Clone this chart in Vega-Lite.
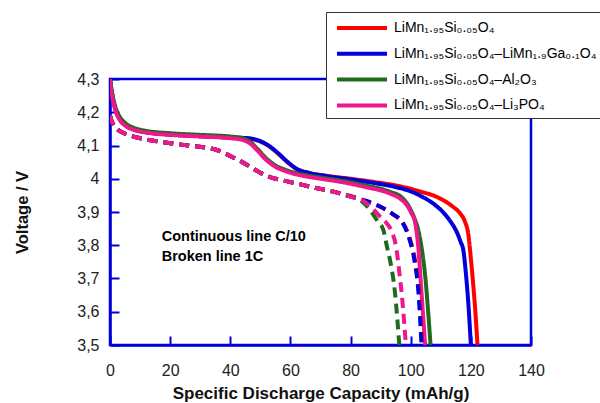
{
  "$schema": "https://vega.github.io/schema/vega-lite/v6.json",
  "width": 421,
  "height": 266,
  "autosize": {"type": "none"},
  "padding": {"left": 110, "top": 79, "right": 69, "bottom": 58},
  "background": "white",
  "config": {
    "view": {"stroke": "#0000dd", "strokeWidth": 2.5},
    "font": "Liberation Sans",
    "axis": {
      "grid": false,
      "domainColor": "#0000dd",
      "domainWidth": 2.5,
      "tickColor": "#0000dd",
      "tickWidth": 2,
      "tickSize": -9,
      "labelFont": "Liberation Sans",
      "labelFontSize": 16,
      "labelColor": "#222222",
      "labelOverlap": false,
      "labelFlush": false,
      "titleFont": "Liberation Sans",
      "titleFontWeight": "bold",
      "titleColor": "#111111"
    }
  },
  "datasets": {
    "curves": [
      {"mat": "LiMn₁.₉₅Si₀.₀₅O₄", "rate": "C/10", "cap": 0, "v": 4.30},
      {"mat": "LiMn₁.₉₅Si₀.₀₅O₄", "rate": "C/10", "cap": 0.5, "v": 4.265},
      {"mat": "LiMn₁.₉₅Si₀.₀₅O₄", "rate": "C/10", "cap": 1, "v": 4.24},
      {"mat": "LiMn₁.₉₅Si₀.₀₅O₄", "rate": "C/10", "cap": 2, "v": 4.205},
      {"mat": "LiMn₁.₉₅Si₀.₀₅O₄", "rate": "C/10", "cap": 3, "v": 4.185},
      {"mat": "LiMn₁.₉₅Si₀.₀₅O₄", "rate": "C/10", "cap": 5, "v": 4.163},
      {"mat": "LiMn₁.₉₅Si₀.₀₅O₄", "rate": "C/10", "cap": 8, "v": 4.148},
      {"mat": "LiMn₁.₉₅Si₀.₀₅O₄", "rate": "C/10", "cap": 12, "v": 4.140},
      {"mat": "LiMn₁.₉₅Si₀.₀₅O₄", "rate": "C/10", "cap": 20, "v": 4.133},
      {"mat": "LiMn₁.₉₅Si₀.₀₅O₄", "rate": "C/10", "cap": 30, "v": 4.128},
      {"mat": "LiMn₁.₉₅Si₀.₀₅O₄", "rate": "C/10", "cap": 40, "v": 4.124},
      {"mat": "LiMn₁.₉₅Si₀.₀₅O₄", "rate": "C/10", "cap": 46, "v": 4.121},
      {"mat": "LiMn₁.₉₅Si₀.₀₅O₄", "rate": "C/10", "cap": 50, "v": 4.112},
      {"mat": "LiMn₁.₉₅Si₀.₀₅O₄", "rate": "C/10", "cap": 53, "v": 4.097},
      {"mat": "LiMn₁.₉₅Si₀.₀₅O₄", "rate": "C/10", "cap": 56, "v": 4.075},
      {"mat": "LiMn₁.₉₅Si₀.₀₅O₄", "rate": "C/10", "cap": 59, "v": 4.050},
      {"mat": "LiMn₁.₉₅Si₀.₀₅O₄", "rate": "C/10", "cap": 62, "v": 4.030},
      {"mat": "LiMn₁.₉₅Si₀.₀₅O₄", "rate": "C/10", "cap": 66, "v": 4.018},
      {"mat": "LiMn₁.₉₅Si₀.₀₅O₄", "rate": "C/10", "cap": 72, "v": 4.009},
      {"mat": "LiMn₁.₉₅Si₀.₀₅O₄", "rate": "C/10", "cap": 80, "v": 4.000},
      {"mat": "LiMn₁.₉₅Si₀.₀₅O₄", "rate": "C/10", "cap": 88, "v": 3.990},
      {"mat": "LiMn₁.₉₅Si₀.₀₅O₄", "rate": "C/10", "cap": 95, "v": 3.980},
      {"mat": "LiMn₁.₉₅Si₀.₀₅O₄", "rate": "C/10", "cap": 103, "v": 3.962},
      {"mat": "LiMn₁.₉₅Si₀.₀₅O₄", "rate": "C/10", "cap": 109, "v": 3.944},
      {"mat": "LiMn₁.₉₅Si₀.₀₅O₄", "rate": "C/10", "cap": 114, "v": 3.916},
      {"mat": "LiMn₁.₉₅Si₀.₀₅O₄", "rate": "C/10", "cap": 116.5, "v": 3.895},
      {"mat": "LiMn₁.₉₅Si₀.₀₅O₄", "rate": "C/10", "cap": 118, "v": 3.872},
      {"mat": "LiMn₁.₉₅Si₀.₀₅O₄", "rate": "C/10", "cap": 119.2, "v": 3.83},
      {"mat": "LiMn₁.₉₅Si₀.₀₅O₄", "rate": "C/10", "cap": 120, "v": 3.76},
      {"mat": "LiMn₁.₉₅Si₀.₀₅O₄", "rate": "C/10", "cap": 120.8, "v": 3.68},
      {"mat": "LiMn₁.₉₅Si₀.₀₅O₄", "rate": "C/10", "cap": 121.5, "v": 3.60},
      {"mat": "LiMn₁.₉₅Si₀.₀₅O₄", "rate": "C/10", "cap": 122.2, "v": 3.50},

      {"mat": "LiMn₁.₉₅Si₀.₀₅O₄–LiMn₁.₉Ga₀.₁O₄", "rate": "C/10", "cap": 0, "v": 4.30},
      {"mat": "LiMn₁.₉₅Si₀.₀₅O₄–LiMn₁.₉Ga₀.₁O₄", "rate": "C/10", "cap": 0.5, "v": 4.265},
      {"mat": "LiMn₁.₉₅Si₀.₀₅O₄–LiMn₁.₉Ga₀.₁O₄", "rate": "C/10", "cap": 1, "v": 4.24},
      {"mat": "LiMn₁.₉₅Si₀.₀₅O₄–LiMn₁.₉Ga₀.₁O₄", "rate": "C/10", "cap": 2, "v": 4.205},
      {"mat": "LiMn₁.₉₅Si₀.₀₅O₄–LiMn₁.₉Ga₀.₁O₄", "rate": "C/10", "cap": 3, "v": 4.185},
      {"mat": "LiMn₁.₉₅Si₀.₀₅O₄–LiMn₁.₉Ga₀.₁O₄", "rate": "C/10", "cap": 5, "v": 4.163},
      {"mat": "LiMn₁.₉₅Si₀.₀₅O₄–LiMn₁.₉Ga₀.₁O₄", "rate": "C/10", "cap": 8, "v": 4.148},
      {"mat": "LiMn₁.₉₅Si₀.₀₅O₄–LiMn₁.₉Ga₀.₁O₄", "rate": "C/10", "cap": 12, "v": 4.140},
      {"mat": "LiMn₁.₉₅Si₀.₀₅O₄–LiMn₁.₉Ga₀.₁O₄", "rate": "C/10", "cap": 20, "v": 4.133},
      {"mat": "LiMn₁.₉₅Si₀.₀₅O₄–LiMn₁.₉Ga₀.₁O₄", "rate": "C/10", "cap": 30, "v": 4.128},
      {"mat": "LiMn₁.₉₅Si₀.₀₅O₄–LiMn₁.₉Ga₀.₁O₄", "rate": "C/10", "cap": 40, "v": 4.124},
      {"mat": "LiMn₁.₉₅Si₀.₀₅O₄–LiMn₁.₉Ga₀.₁O₄", "rate": "C/10", "cap": 46, "v": 4.122},
      {"mat": "LiMn₁.₉₅Si₀.₀₅O₄–LiMn₁.₉Ga₀.₁O₄", "rate": "C/10", "cap": 50, "v": 4.113},
      {"mat": "LiMn₁.₉₅Si₀.₀₅O₄–LiMn₁.₉Ga₀.₁O₄", "rate": "C/10", "cap": 53, "v": 4.098},
      {"mat": "LiMn₁.₉₅Si₀.₀₅O₄–LiMn₁.₉Ga₀.₁O₄", "rate": "C/10", "cap": 56, "v": 4.076},
      {"mat": "LiMn₁.₉₅Si₀.₀₅O₄–LiMn₁.₉Ga₀.₁O₄", "rate": "C/10", "cap": 59, "v": 4.051},
      {"mat": "LiMn₁.₉₅Si₀.₀₅O₄–LiMn₁.₉Ga₀.₁O₄", "rate": "C/10", "cap": 62, "v": 4.030},
      {"mat": "LiMn₁.₉₅Si₀.₀₅O₄–LiMn₁.₉Ga₀.₁O₄", "rate": "C/10", "cap": 66, "v": 4.018},
      {"mat": "LiMn₁.₉₅Si₀.₀₅O₄–LiMn₁.₉Ga₀.₁O₄", "rate": "C/10", "cap": 72, "v": 4.008},
      {"mat": "LiMn₁.₉₅Si₀.₀₅O₄–LiMn₁.₉Ga₀.₁O₄", "rate": "C/10", "cap": 80, "v": 3.998},
      {"mat": "LiMn₁.₉₅Si₀.₀₅O₄–LiMn₁.₉Ga₀.₁O₄", "rate": "C/10", "cap": 88, "v": 3.987},
      {"mat": "LiMn₁.₉₅Si₀.₀₅O₄–LiMn₁.₉Ga₀.₁O₄", "rate": "C/10", "cap": 95, "v": 3.975},
      {"mat": "LiMn₁.₉₅Si₀.₀₅O₄–LiMn₁.₉Ga₀.₁O₄", "rate": "C/10", "cap": 100, "v": 3.962},
      {"mat": "LiMn₁.₉₅Si₀.₀₅O₄–LiMn₁.₉Ga₀.₁O₄", "rate": "C/10", "cap": 104, "v": 3.945},
      {"mat": "LiMn₁.₉₅Si₀.₀₅O₄–LiMn₁.₉Ga₀.₁O₄", "rate": "C/10", "cap": 108, "v": 3.922},
      {"mat": "LiMn₁.₉₅Si₀.₀₅O₄–LiMn₁.₉Ga₀.₁O₄", "rate": "C/10", "cap": 111, "v": 3.897},
      {"mat": "LiMn₁.₉₅Si₀.₀₅O₄–LiMn₁.₉Ga₀.₁O₄", "rate": "C/10", "cap": 113.5, "v": 3.868},
      {"mat": "LiMn₁.₉₅Si₀.₀₅O₄–LiMn₁.₉Ga₀.₁O₄", "rate": "C/10", "cap": 115.3, "v": 3.840},
      {"mat": "LiMn₁.₉₅Si₀.₀₅O₄–LiMn₁.₉Ga₀.₁O₄", "rate": "C/10", "cap": 116.6, "v": 3.81},
      {"mat": "LiMn₁.₉₅Si₀.₀₅O₄–LiMn₁.₉Ga₀.₁O₄", "rate": "C/10", "cap": 117.5, "v": 3.785},
      {"mat": "LiMn₁.₉₅Si₀.₀₅O₄–LiMn₁.₉Ga₀.₁O₄", "rate": "C/10", "cap": 118.3, "v": 3.72},
      {"mat": "LiMn₁.₉₅Si₀.₀₅O₄–LiMn₁.₉Ga₀.₁O₄", "rate": "C/10", "cap": 119.2, "v": 3.62},
      {"mat": "LiMn₁.₉₅Si₀.₀₅O₄–LiMn₁.₉Ga₀.₁O₄", "rate": "C/10", "cap": 120, "v": 3.50},

      {"mat": "LiMn₁.₉₅Si₀.₀₅O₄–Al₂O₃", "rate": "C/10", "cap": 0, "v": 4.30},
      {"mat": "LiMn₁.₉₅Si₀.₀₅O₄–Al₂O₃", "rate": "C/10", "cap": 0.5, "v": 4.27},
      {"mat": "LiMn₁.₉₅Si₀.₀₅O₄–Al₂O₃", "rate": "C/10", "cap": 1, "v": 4.245},
      {"mat": "LiMn₁.₉₅Si₀.₀₅O₄–Al₂O₃", "rate": "C/10", "cap": 2, "v": 4.21},
      {"mat": "LiMn₁.₉₅Si₀.₀₅O₄–Al₂O₃", "rate": "C/10", "cap": 3, "v": 4.19},
      {"mat": "LiMn₁.₉₅Si₀.₀₅O₄–Al₂O₃", "rate": "C/10", "cap": 5, "v": 4.168},
      {"mat": "LiMn₁.₉₅Si₀.₀₅O₄–Al₂O₃", "rate": "C/10", "cap": 8, "v": 4.153},
      {"mat": "LiMn₁.₉₅Si₀.₀₅O₄–Al₂O₃", "rate": "C/10", "cap": 12, "v": 4.144},
      {"mat": "LiMn₁.₉₅Si₀.₀₅O₄–Al₂O₃", "rate": "C/10", "cap": 20, "v": 4.137},
      {"mat": "LiMn₁.₉₅Si₀.₀₅O₄–Al₂O₃", "rate": "C/10", "cap": 30, "v": 4.132},
      {"mat": "LiMn₁.₉₅Si₀.₀₅O₄–Al₂O₃", "rate": "C/10", "cap": 40, "v": 4.127},
      {"mat": "LiMn₁.₉₅Si₀.₀₅O₄–Al₂O₃", "rate": "C/10", "cap": 44, "v": 4.122},
      {"mat": "LiMn₁.₉₅Si₀.₀₅O₄–Al₂O₃", "rate": "C/10", "cap": 46.6, "v": 4.111},
      {"mat": "LiMn₁.₉₅Si₀.₀₅O₄–Al₂O₃", "rate": "C/10", "cap": 49, "v": 4.090},
      {"mat": "LiMn₁.₉₅Si₀.₀₅O₄–Al₂O₃", "rate": "C/10", "cap": 52, "v": 4.061},
      {"mat": "LiMn₁.₉₅Si₀.₀₅O₄–Al₂O₃", "rate": "C/10", "cap": 55, "v": 4.040},
      {"mat": "LiMn₁.₉₅Si₀.₀₅O₄–Al₂O₃", "rate": "C/10", "cap": 58, "v": 4.028},
      {"mat": "LiMn₁.₉₅Si₀.₀₅O₄–Al₂O₃", "rate": "C/10", "cap": 63, "v": 4.015},
      {"mat": "LiMn₁.₉₅Si₀.₀₅O₄–Al₂O₃", "rate": "C/10", "cap": 70, "v": 4.004},
      {"mat": "LiMn₁.₉₅Si₀.₀₅O₄–Al₂O₃", "rate": "C/10", "cap": 76.5, "v": 3.995},
      {"mat": "LiMn₁.₉₅Si₀.₀₅O₄–Al₂O₃", "rate": "C/10", "cap": 85, "v": 3.980},
      {"mat": "LiMn₁.₉₅Si₀.₀₅O₄–Al₂O₃", "rate": "C/10", "cap": 93, "v": 3.961},
      {"mat": "LiMn₁.₉₅Si₀.₀₅O₄–Al₂O₃", "rate": "C/10", "cap": 97, "v": 3.944},
      {"mat": "LiMn₁.₉₅Si₀.₀₅O₄–Al₂O₃", "rate": "C/10", "cap": 99.8, "v": 3.910},
      {"mat": "LiMn₁.₉₅Si₀.₀₅O₄–Al₂O₃", "rate": "C/10", "cap": 101.5, "v": 3.875},
      {"mat": "LiMn₁.₉₅Si₀.₀₅O₄–Al₂O₃", "rate": "C/10", "cap": 102.5, "v": 3.846},
      {"mat": "LiMn₁.₉₅Si₀.₀₅O₄–Al₂O₃", "rate": "C/10", "cap": 103.5, "v": 3.80},
      {"mat": "LiMn₁.₉₅Si₀.₀₅O₄–Al₂O₃", "rate": "C/10", "cap": 104.2, "v": 3.756},
      {"mat": "LiMn₁.₉₅Si₀.₀₅O₄–Al₂O₃", "rate": "C/10", "cap": 105, "v": 3.69},
      {"mat": "LiMn₁.₉₅Si₀.₀₅O₄–Al₂O₃", "rate": "C/10", "cap": 105.5, "v": 3.635},
      {"mat": "LiMn₁.₉₅Si₀.₀₅O₄–Al₂O₃", "rate": "C/10", "cap": 106.6, "v": 3.50},

      {"mat": "LiMn₁.₉₅Si₀.₀₅O₄–Li₃PO₄", "rate": "C/10", "cap": 0, "v": 4.30},
      {"mat": "LiMn₁.₉₅Si₀.₀₅O₄–Li₃PO₄", "rate": "C/10", "cap": 0.5, "v": 4.26},
      {"mat": "LiMn₁.₉₅Si₀.₀₅O₄–Li₃PO₄", "rate": "C/10", "cap": 1, "v": 4.235},
      {"mat": "LiMn₁.₉₅Si₀.₀₅O₄–Li₃PO₄", "rate": "C/10", "cap": 2, "v": 4.20},
      {"mat": "LiMn₁.₉₅Si₀.₀₅O₄–Li₃PO₄", "rate": "C/10", "cap": 3, "v": 4.18},
      {"mat": "LiMn₁.₉₅Si₀.₀₅O₄–Li₃PO₄", "rate": "C/10", "cap": 5, "v": 4.16},
      {"mat": "LiMn₁.₉₅Si₀.₀₅O₄–Li₃PO₄", "rate": "C/10", "cap": 8, "v": 4.147},
      {"mat": "LiMn₁.₉₅Si₀.₀₅O₄–Li₃PO₄", "rate": "C/10", "cap": 12, "v": 4.139},
      {"mat": "LiMn₁.₉₅Si₀.₀₅O₄–Li₃PO₄", "rate": "C/10", "cap": 20, "v": 4.132},
      {"mat": "LiMn₁.₉₅Si₀.₀₅O₄–Li₃PO₄", "rate": "C/10", "cap": 30, "v": 4.127},
      {"mat": "LiMn₁.₉₅Si₀.₀₅O₄–Li₃PO₄", "rate": "C/10", "cap": 40, "v": 4.122},
      {"mat": "LiMn₁.₉₅Si₀.₀₅O₄–Li₃PO₄", "rate": "C/10", "cap": 44, "v": 4.117},
      {"mat": "LiMn₁.₉₅Si₀.₀₅O₄–Li₃PO₄", "rate": "C/10", "cap": 46.6, "v": 4.106},
      {"mat": "LiMn₁.₉₅Si₀.₀₅O₄–Li₃PO₄", "rate": "C/10", "cap": 49, "v": 4.085},
      {"mat": "LiMn₁.₉₅Si₀.₀₅O₄–Li₃PO₄", "rate": "C/10", "cap": 52, "v": 4.056},
      {"mat": "LiMn₁.₉₅Si₀.₀₅O₄–Li₃PO₄", "rate": "C/10", "cap": 55, "v": 4.036},
      {"mat": "LiMn₁.₉₅Si₀.₀₅O₄–Li₃PO₄", "rate": "C/10", "cap": 58, "v": 4.024},
      {"mat": "LiMn₁.₉₅Si₀.₀₅O₄–Li₃PO₄", "rate": "C/10", "cap": 63, "v": 4.011},
      {"mat": "LiMn₁.₉₅Si₀.₀₅O₄–Li₃PO₄", "rate": "C/10", "cap": 70, "v": 4.000},
      {"mat": "LiMn₁.₉₅Si₀.₀₅O₄–Li₃PO₄", "rate": "C/10", "cap": 76.5, "v": 3.991},
      {"mat": "LiMn₁.₉₅Si₀.₀₅O₄–Li₃PO₄", "rate": "C/10", "cap": 85, "v": 3.975},
      {"mat": "LiMn₁.₉₅Si₀.₀₅O₄–Li₃PO₄", "rate": "C/10", "cap": 93, "v": 3.956},
      {"mat": "LiMn₁.₉₅Si₀.₀₅O₄–Li₃PO₄", "rate": "C/10", "cap": 96.5, "v": 3.940},
      {"mat": "LiMn₁.₉₅Si₀.₀₅O₄–Li₃PO₄", "rate": "C/10", "cap": 98.7, "v": 3.921},
      {"mat": "LiMn₁.₉₅Si₀.₀₅O₄–Li₃PO₄", "rate": "C/10", "cap": 100.3, "v": 3.895},
      {"mat": "LiMn₁.₉₅Si₀.₀₅O₄–Li₃PO₄", "rate": "C/10", "cap": 101.4, "v": 3.871},
      {"mat": "LiMn₁.₉₅Si₀.₀₅O₄–Li₃PO₄", "rate": "C/10", "cap": 102.5, "v": 3.796},
      {"mat": "LiMn₁.₉₅Si₀.₀₅O₄–Li₃PO₄", "rate": "C/10", "cap": 103.6, "v": 3.656},
      {"mat": "LiMn₁.₉₅Si₀.₀₅O₄–Li₃PO₄", "rate": "C/10", "cap": 104.8, "v": 3.50},

      {"mat": "LiMn₁.₉₅Si₀.₀₅O₄", "rate": "1C", "cap": 0, "v": 4.19},
      {"mat": "LiMn₁.₉₅Si₀.₀₅O₄", "rate": "1C", "cap": 0.5, "v": 4.175},
      {"mat": "LiMn₁.₉₅Si₀.₀₅O₄", "rate": "1C", "cap": 1, "v": 4.165},
      {"mat": "LiMn₁.₉₅Si₀.₀₅O₄", "rate": "1C", "cap": 2, "v": 4.153},
      {"mat": "LiMn₁.₉₅Si₀.₀₅O₄", "rate": "1C", "cap": 4, "v": 4.140},
      {"mat": "LiMn₁.₉₅Si₀.₀₅O₄", "rate": "1C", "cap": 6, "v": 4.132},
      {"mat": "LiMn₁.₉₅Si₀.₀₅O₄", "rate": "1C", "cap": 9, "v": 4.124},
      {"mat": "LiMn₁.₉₅Si₀.₀₅O₄", "rate": "1C", "cap": 14, "v": 4.115},
      {"mat": "LiMn₁.₉₅Si₀.₀₅O₄", "rate": "1C", "cap": 20, "v": 4.107},
      {"mat": "LiMn₁.₉₅Si₀.₀₅O₄", "rate": "1C", "cap": 26, "v": 4.100},
      {"mat": "LiMn₁.₉₅Si₀.₀₅O₄", "rate": "1C", "cap": 31, "v": 4.095},
      {"mat": "LiMn₁.₉₅Si₀.₀₅O₄", "rate": "1C", "cap": 35, "v": 4.088},
      {"mat": "LiMn₁.₉₅Si₀.₀₅O₄", "rate": "1C", "cap": 38, "v": 4.077},
      {"mat": "LiMn₁.₉₅Si₀.₀₅O₄", "rate": "1C", "cap": 41, "v": 4.064},
      {"mat": "LiMn₁.₉₅Si₀.₀₅O₄", "rate": "1C", "cap": 44, "v": 4.050},
      {"mat": "LiMn₁.₉₅Si₀.₀₅O₄", "rate": "1C", "cap": 47, "v": 4.034},
      {"mat": "LiMn₁.₉₅Si₀.₀₅O₄", "rate": "1C", "cap": 50, "v": 4.018},
      {"mat": "LiMn₁.₉₅Si₀.₀₅O₄", "rate": "1C", "cap": 53, "v": 4.006},
      {"mat": "LiMn₁.₉₅Si₀.₀₅O₄", "rate": "1C", "cap": 57, "v": 3.996},
      {"mat": "LiMn₁.₉₅Si₀.₀₅O₄", "rate": "1C", "cap": 62, "v": 3.986},
      {"mat": "LiMn₁.₉₅Si₀.₀₅O₄", "rate": "1C", "cap": 68, "v": 3.973},
      {"mat": "LiMn₁.₉₅Si₀.₀₅O₄", "rate": "1C", "cap": 74, "v": 3.962},
      {"mat": "LiMn₁.₉₅Si₀.₀₅O₄", "rate": "1C", "cap": 80, "v": 3.948},
      {"mat": "LiMn₁.₉₅Si₀.₀₅O₄", "rate": "1C", "cap": 85, "v": 3.933},
      {"mat": "LiMn₁.₉₅Si₀.₀₅O₄", "rate": "1C", "cap": 90, "v": 3.915},
      {"mat": "LiMn₁.₉₅Si₀.₀₅O₄", "rate": "1C", "cap": 94.2, "v": 3.892},
      {"mat": "LiMn₁.₉₅Si₀.₀₅O₄", "rate": "1C", "cap": 97.5, "v": 3.866},
      {"mat": "LiMn₁.₉₅Si₀.₀₅O₄", "rate": "1C", "cap": 99.8, "v": 3.818},
      {"mat": "LiMn₁.₉₅Si₀.₀₅O₄", "rate": "1C", "cap": 101.4, "v": 3.756},
      {"mat": "LiMn₁.₉₅Si₀.₀₅O₄", "rate": "1C", "cap": 102.8, "v": 3.655},
      {"mat": "LiMn₁.₉₅Si₀.₀₅O₄", "rate": "1C", "cap": 103.8, "v": 3.50},

      {"mat": "LiMn₁.₉₅Si₀.₀₅O₄–LiMn₁.₉Ga₀.₁O₄", "rate": "1C", "cap": 0, "v": 4.19},
      {"mat": "LiMn₁.₉₅Si₀.₀₅O₄–LiMn₁.₉Ga₀.₁O₄", "rate": "1C", "cap": 0.5, "v": 4.175},
      {"mat": "LiMn₁.₉₅Si₀.₀₅O₄–LiMn₁.₉Ga₀.₁O₄", "rate": "1C", "cap": 1, "v": 4.165},
      {"mat": "LiMn₁.₉₅Si₀.₀₅O₄–LiMn₁.₉Ga₀.₁O₄", "rate": "1C", "cap": 2, "v": 4.153},
      {"mat": "LiMn₁.₉₅Si₀.₀₅O₄–LiMn₁.₉Ga₀.₁O₄", "rate": "1C", "cap": 4, "v": 4.140},
      {"mat": "LiMn₁.₉₅Si₀.₀₅O₄–LiMn₁.₉Ga₀.₁O₄", "rate": "1C", "cap": 6, "v": 4.132},
      {"mat": "LiMn₁.₉₅Si₀.₀₅O₄–LiMn₁.₉Ga₀.₁O₄", "rate": "1C", "cap": 9, "v": 4.124},
      {"mat": "LiMn₁.₉₅Si₀.₀₅O₄–LiMn₁.₉Ga₀.₁O₄", "rate": "1C", "cap": 14, "v": 4.115},
      {"mat": "LiMn₁.₉₅Si₀.₀₅O₄–LiMn₁.₉Ga₀.₁O₄", "rate": "1C", "cap": 20, "v": 4.107},
      {"mat": "LiMn₁.₉₅Si₀.₀₅O₄–LiMn₁.₉Ga₀.₁O₄", "rate": "1C", "cap": 26, "v": 4.100},
      {"mat": "LiMn₁.₉₅Si₀.₀₅O₄–LiMn₁.₉Ga₀.₁O₄", "rate": "1C", "cap": 31, "v": 4.095},
      {"mat": "LiMn₁.₉₅Si₀.₀₅O₄–LiMn₁.₉Ga₀.₁O₄", "rate": "1C", "cap": 35, "v": 4.088},
      {"mat": "LiMn₁.₉₅Si₀.₀₅O₄–LiMn₁.₉Ga₀.₁O₄", "rate": "1C", "cap": 38, "v": 4.077},
      {"mat": "LiMn₁.₉₅Si₀.₀₅O₄–LiMn₁.₉Ga₀.₁O₄", "rate": "1C", "cap": 41, "v": 4.064},
      {"mat": "LiMn₁.₉₅Si₀.₀₅O₄–LiMn₁.₉Ga₀.₁O₄", "rate": "1C", "cap": 44, "v": 4.050},
      {"mat": "LiMn₁.₉₅Si₀.₀₅O₄–LiMn₁.₉Ga₀.₁O₄", "rate": "1C", "cap": 47, "v": 4.034},
      {"mat": "LiMn₁.₉₅Si₀.₀₅O₄–LiMn₁.₉Ga₀.₁O₄", "rate": "1C", "cap": 50, "v": 4.018},
      {"mat": "LiMn₁.₉₅Si₀.₀₅O₄–LiMn₁.₉Ga₀.₁O₄", "rate": "1C", "cap": 53, "v": 4.006},
      {"mat": "LiMn₁.₉₅Si₀.₀₅O₄–LiMn₁.₉Ga₀.₁O₄", "rate": "1C", "cap": 57, "v": 3.996},
      {"mat": "LiMn₁.₉₅Si₀.₀₅O₄–LiMn₁.₉Ga₀.₁O₄", "rate": "1C", "cap": 62, "v": 3.986},
      {"mat": "LiMn₁.₉₅Si₀.₀₅O₄–LiMn₁.₉Ga₀.₁O₄", "rate": "1C", "cap": 68, "v": 3.973},
      {"mat": "LiMn₁.₉₅Si₀.₀₅O₄–LiMn₁.₉Ga₀.₁O₄", "rate": "1C", "cap": 74, "v": 3.962},
      {"mat": "LiMn₁.₉₅Si₀.₀₅O₄–LiMn₁.₉Ga₀.₁O₄", "rate": "1C", "cap": 80, "v": 3.947},
      {"mat": "LiMn₁.₉₅Si₀.₀₅O₄–LiMn₁.₉Ga₀.₁O₄", "rate": "1C", "cap": 85, "v": 3.934},
      {"mat": "LiMn₁.₉₅Si₀.₀₅O₄–LiMn₁.₉Ga₀.₁O₄", "rate": "1C", "cap": 90, "v": 3.916},
      {"mat": "LiMn₁.₉₅Si₀.₀₅O₄–LiMn₁.₉Ga₀.₁O₄", "rate": "1C", "cap": 94.2, "v": 3.893},
      {"mat": "LiMn₁.₉₅Si₀.₀₅O₄–LiMn₁.₉Ga₀.₁O₄", "rate": "1C", "cap": 97.3, "v": 3.868},
      {"mat": "LiMn₁.₉₅Si₀.₀₅O₄–LiMn₁.₉Ga₀.₁O₄", "rate": "1C", "cap": 99.5, "v": 3.820},
      {"mat": "LiMn₁.₉₅Si₀.₀₅O₄–LiMn₁.₉Ga₀.₁O₄", "rate": "1C", "cap": 101.2, "v": 3.756},
      {"mat": "LiMn₁.₉₅Si₀.₀₅O₄–LiMn₁.₉Ga₀.₁O₄", "rate": "1C", "cap": 102.6, "v": 3.655},
      {"mat": "LiMn₁.₉₅Si₀.₀₅O₄–LiMn₁.₉Ga₀.₁O₄", "rate": "1C", "cap": 103.6, "v": 3.50},

      {"mat": "LiMn₁.₉₅Si₀.₀₅O₄–Al₂O₃", "rate": "1C", "cap": 0, "v": 4.19},
      {"mat": "LiMn₁.₉₅Si₀.₀₅O₄–Al₂O₃", "rate": "1C", "cap": 0.5, "v": 4.175},
      {"mat": "LiMn₁.₉₅Si₀.₀₅O₄–Al₂O₃", "rate": "1C", "cap": 1, "v": 4.165},
      {"mat": "LiMn₁.₉₅Si₀.₀₅O₄–Al₂O₃", "rate": "1C", "cap": 2, "v": 4.153},
      {"mat": "LiMn₁.₉₅Si₀.₀₅O₄–Al₂O₃", "rate": "1C", "cap": 4, "v": 4.140},
      {"mat": "LiMn₁.₉₅Si₀.₀₅O₄–Al₂O₃", "rate": "1C", "cap": 6, "v": 4.132},
      {"mat": "LiMn₁.₉₅Si₀.₀₅O₄–Al₂O₃", "rate": "1C", "cap": 9, "v": 4.124},
      {"mat": "LiMn₁.₉₅Si₀.₀₅O₄–Al₂O₃", "rate": "1C", "cap": 14, "v": 4.115},
      {"mat": "LiMn₁.₉₅Si₀.₀₅O₄–Al₂O₃", "rate": "1C", "cap": 20, "v": 4.107},
      {"mat": "LiMn₁.₉₅Si₀.₀₅O₄–Al₂O₃", "rate": "1C", "cap": 26, "v": 4.100},
      {"mat": "LiMn₁.₉₅Si₀.₀₅O₄–Al₂O₃", "rate": "1C", "cap": 31, "v": 4.095},
      {"mat": "LiMn₁.₉₅Si₀.₀₅O₄–Al₂O₃", "rate": "1C", "cap": 35, "v": 4.088},
      {"mat": "LiMn₁.₉₅Si₀.₀₅O₄–Al₂O₃", "rate": "1C", "cap": 38, "v": 4.077},
      {"mat": "LiMn₁.₉₅Si₀.₀₅O₄–Al₂O₃", "rate": "1C", "cap": 41, "v": 4.064},
      {"mat": "LiMn₁.₉₅Si₀.₀₅O₄–Al₂O₃", "rate": "1C", "cap": 44, "v": 4.050},
      {"mat": "LiMn₁.₉₅Si₀.₀₅O₄–Al₂O₃", "rate": "1C", "cap": 47, "v": 4.034},
      {"mat": "LiMn₁.₉₅Si₀.₀₅O₄–Al₂O₃", "rate": "1C", "cap": 50, "v": 4.018},
      {"mat": "LiMn₁.₉₅Si₀.₀₅O₄–Al₂O₃", "rate": "1C", "cap": 53, "v": 4.006},
      {"mat": "LiMn₁.₉₅Si₀.₀₅O₄–Al₂O₃", "rate": "1C", "cap": 57, "v": 3.996},
      {"mat": "LiMn₁.₉₅Si₀.₀₅O₄–Al₂O₃", "rate": "1C", "cap": 62, "v": 3.986},
      {"mat": "LiMn₁.₉₅Si₀.₀₅O₄–Al₂O₃", "rate": "1C", "cap": 68, "v": 3.973},
      {"mat": "LiMn₁.₉₅Si₀.₀₅O₄–Al₂O₃", "rate": "1C", "cap": 74, "v": 3.962},
      {"mat": "LiMn₁.₉₅Si₀.₀₅O₄–Al₂O₃", "rate": "1C", "cap": 80, "v": 3.946},
      {"mat": "LiMn₁.₉₅Si₀.₀₅O₄–Al₂O₃", "rate": "1C", "cap": 83, "v": 3.937},
      {"mat": "LiMn₁.₉₅Si₀.₀₅O₄–Al₂O₃", "rate": "1C", "cap": 86.5, "v": 3.906},
      {"mat": "LiMn₁.₉₅Si₀.₀₅O₄–Al₂O₃", "rate": "1C", "cap": 89, "v": 3.872},
      {"mat": "LiMn₁.₉₅Si₀.₀₅O₄–Al₂O₃", "rate": "1C", "cap": 90.9, "v": 3.846},
      {"mat": "LiMn₁.₉₅Si₀.₀₅O₄–Al₂O₃", "rate": "1C", "cap": 92, "v": 3.80},
      {"mat": "LiMn₁.₉₅Si₀.₀₅O₄–Al₂O₃", "rate": "1C", "cap": 93.1, "v": 3.756},
      {"mat": "LiMn₁.₉₅Si₀.₀₅O₄–Al₂O₃", "rate": "1C", "cap": 94.8, "v": 3.655},
      {"mat": "LiMn₁.₉₅Si₀.₀₅O₄–Al₂O₃", "rate": "1C", "cap": 96.2, "v": 3.50},

      {"mat": "LiMn₁.₉₅Si₀.₀₅O₄–Li₃PO₄", "rate": "1C", "cap": 0, "v": 4.19},
      {"mat": "LiMn₁.₉₅Si₀.₀₅O₄–Li₃PO₄", "rate": "1C", "cap": 0.5, "v": 4.175},
      {"mat": "LiMn₁.₉₅Si₀.₀₅O₄–Li₃PO₄", "rate": "1C", "cap": 1, "v": 4.165},
      {"mat": "LiMn₁.₉₅Si₀.₀₅O₄–Li₃PO₄", "rate": "1C", "cap": 2, "v": 4.153},
      {"mat": "LiMn₁.₉₅Si₀.₀₅O₄–Li₃PO₄", "rate": "1C", "cap": 4, "v": 4.140},
      {"mat": "LiMn₁.₉₅Si₀.₀₅O₄–Li₃PO₄", "rate": "1C", "cap": 6, "v": 4.132},
      {"mat": "LiMn₁.₉₅Si₀.₀₅O₄–Li₃PO₄", "rate": "1C", "cap": 9, "v": 4.124},
      {"mat": "LiMn₁.₉₅Si₀.₀₅O₄–Li₃PO₄", "rate": "1C", "cap": 14, "v": 4.115},
      {"mat": "LiMn₁.₉₅Si₀.₀₅O₄–Li₃PO₄", "rate": "1C", "cap": 20, "v": 4.107},
      {"mat": "LiMn₁.₉₅Si₀.₀₅O₄–Li₃PO₄", "rate": "1C", "cap": 26, "v": 4.100},
      {"mat": "LiMn₁.₉₅Si₀.₀₅O₄–Li₃PO₄", "rate": "1C", "cap": 31, "v": 4.095},
      {"mat": "LiMn₁.₉₅Si₀.₀₅O₄–Li₃PO₄", "rate": "1C", "cap": 35, "v": 4.088},
      {"mat": "LiMn₁.₉₅Si₀.₀₅O₄–Li₃PO₄", "rate": "1C", "cap": 38, "v": 4.077},
      {"mat": "LiMn₁.₉₅Si₀.₀₅O₄–Li₃PO₄", "rate": "1C", "cap": 41, "v": 4.064},
      {"mat": "LiMn₁.₉₅Si₀.₀₅O₄–Li₃PO₄", "rate": "1C", "cap": 44, "v": 4.050},
      {"mat": "LiMn₁.₉₅Si₀.₀₅O₄–Li₃PO₄", "rate": "1C", "cap": 47, "v": 4.034},
      {"mat": "LiMn₁.₉₅Si₀.₀₅O₄–Li₃PO₄", "rate": "1C", "cap": 50, "v": 4.018},
      {"mat": "LiMn₁.₉₅Si₀.₀₅O₄–Li₃PO₄", "rate": "1C", "cap": 53, "v": 4.006},
      {"mat": "LiMn₁.₉₅Si₀.₀₅O₄–Li₃PO₄", "rate": "1C", "cap": 57, "v": 3.996},
      {"mat": "LiMn₁.₉₅Si₀.₀₅O₄–Li₃PO₄", "rate": "1C", "cap": 62, "v": 3.986},
      {"mat": "LiMn₁.₉₅Si₀.₀₅O₄–Li₃PO₄", "rate": "1C", "cap": 68, "v": 3.973},
      {"mat": "LiMn₁.₉₅Si₀.₀₅O₄–Li₃PO₄", "rate": "1C", "cap": 74, "v": 3.962},
      {"mat": "LiMn₁.₉₅Si₀.₀₅O₄–Li₃PO₄", "rate": "1C", "cap": 80, "v": 3.946},
      {"mat": "LiMn₁.₉₅Si₀.₀₅O₄–Li₃PO₄", "rate": "1C", "cap": 84, "v": 3.935},
      {"mat": "LiMn₁.₉₅Si₀.₀₅O₄–Li₃PO₄", "rate": "1C", "cap": 87, "v": 3.913},
      {"mat": "LiMn₁.₉₅Si₀.₀₅O₄–Li₃PO₄", "rate": "1C", "cap": 89.8, "v": 3.886},
      {"mat": "LiMn₁.₉₅Si₀.₀₅O₄–Li₃PO₄", "rate": "1C", "cap": 92, "v": 3.866},
      {"mat": "LiMn₁.₉₅Si₀.₀₅O₄–Li₃PO₄", "rate": "1C", "cap": 93.5, "v": 3.845},
      {"mat": "LiMn₁.₉₅Si₀.₀₅O₄–Li₃PO₄", "rate": "1C", "cap": 95.3, "v": 3.786},
      {"mat": "LiMn₁.₉₅Si₀.₀₅O₄–Li₃PO₄", "rate": "1C", "cap": 96.2, "v": 3.72},
      {"mat": "LiMn₁.₉₅Si₀.₀₅O₄–Li₃PO₄", "rate": "1C", "cap": 97, "v": 3.655},
      {"mat": "LiMn₁.₉₅Si₀.₀₅O₄–Li₃PO₄", "rate": "1C", "cap": 98.4, "v": 3.50}
    ],
    "notes": [
      {"cap": 17.2, "v": 3.814, "text": "Continuous line C/10"},
      {"cap": 17.2, "v": 3.7535, "text": "Broken line 1C"}
    ]
  },
  "layer": [
    {
      "data": {"name": "curves"},
      "mark": {"type": "line", "strokeWidth": 4, "interpolate": "monotone", "clip": true},
      "encoding": {
        "x": {
          "field": "cap",
          "type": "quantitative",
          "scale": {"domain": [0, 140], "nice": false},
          "axis": {
            "title": "Specific Discharge Capacity (mAh/g)",
            "titleFontSize": 17,
            "values": [0, 20, 40, 60, 80, 100, 120, 140],
            "tickCount": 8,
            "labelOverlap": false,
            "labelPadding": 26,
            "titlePadding": 7
          }
        },
        "y": {
          "field": "v",
          "type": "quantitative",
          "scale": {"domain": [3.5, 4.3], "nice": false, "zero": false},
          "axis": {
            "title": "Voltage / V",
            "titleFontSize": 16.5,
            "values": [3.5, 3.6, 3.7, 3.8, 3.9, 4.0, 4.1, 4.2, 4.3],
            "tickCount": 9,
            "labelExpr": "replace(format(datum.value, '~g'), '.', ',')",
            "labelOverlap": false,
            "labelPadding": 20,
            "titlePadding": 46
          }
        },
        "color": {
          "field": "mat",
          "type": "nominal",
          "scale": {
            "domain": [
              "LiMn₁.₉₅Si₀.₀₅O₄",
              "LiMn₁.₉₅Si₀.₀₅O₄–LiMn₁.₉Ga₀.₁O₄",
              "LiMn₁.₉₅Si₀.₀₅O₄–Al₂O₃",
              "LiMn₁.₉₅Si₀.₀₅O₄–Li₃PO₄"
            ],
            "range": ["#ff0000", "#0000dd", "#1e6b1e", "#f0168c"]
          },
          "legend": {
            "orient": "none",
            "legendX": 216,
            "legendY": -67,
            "title": null,
            "symbolType": "M-2.5,0H2.5",
            "symbolStrokeWidth": 4,
            "symbolSize": 400,
            "symbolOffset": 20,
            "labelFont": "Liberation Sans",
            "labelFontSize": 14,
            "labelLimit": 0,
            "labelOffset": 20,
            "padding": 4,
            "rowPadding": 5.8,
            "strokeColor": "#333333",
            "fillColor": "white",
            "encode": {
              "labels": {"fill": {"value": {"expr": "scale('color', datum.value)"}}}
            }
          }
        },
        "strokeDash": {
          "field": "rate",
          "type": "nominal",
          "scale": {"domain": ["C/10", "1C"], "range": [[1, 0], [10, 6]]},
          "legend": null
        }
      }
    },
    {
      "data": {"name": "notes"},
      "mark": {
        "type": "text",
        "align": "left",
        "baseline": "alphabetic",
        "font": "Liberation Sans",
        "fontSize": 14.5,
        "fontWeight": "bold",
        "color": "#000000"
      },
      "encoding": {
        "x": {"field": "cap", "type": "quantitative"},
        "y": {"field": "v", "type": "quantitative"},
        "text": {"field": "text"}
      }
    }
  ]
}
